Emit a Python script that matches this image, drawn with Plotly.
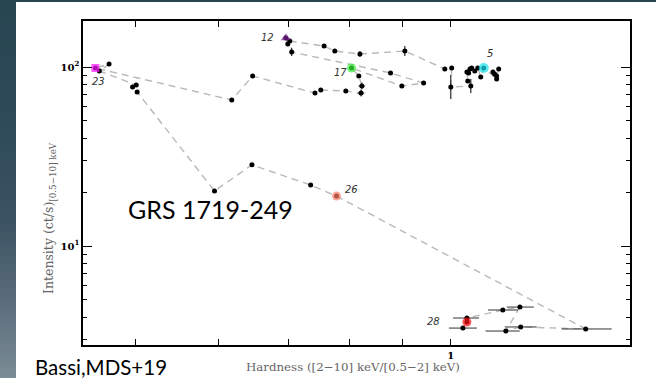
import numpy as np
import plotly.graph_objects as go

# ---------------- data ----------------
# observation path, in time order: hardness ratio and intensity (ct/s)
hardness = [1.111, 1.106, 1.101, 1.097, 1.106, 1.075, 1.068, 1.061, 1.054, 1.047,
            1.043, 1.040, 1.036, 1.038, 1.045, 1.000, 1.002, 0.987, 0.904, 0.819,
            0.775, 0.757, 0.702, 0.696, 0.699, 0.705, 0.876, 0.942, 0.898, 0.804,
            0.817, 0.8225, 0.821, 0.794, 0.7515, 0.742, 0.647, 0.618, 0.458, 0.472,
            0.462, 0.501, 0.497, 0.502, 0.595, 0.646, 0.735, 0.778, 1.345, 1.166,
            1.1285, 1.164, 1.121, 1.036, 1.036, 1.027]
intensity = [97.5, 89.1, 91.4, 93.8, 85.7, 98.7, 87.9, 98.7, 95.0, 98.7,
             97.5, 92.6, 93.8, 83.5, 78.3, 77.3, 98.7, 97.5, 122.8, 118.2,
             122.8, 131.0, 139.8, 145.3, 134.5, 121.3, 92.6, 81.4, 78.3, 98.7,
             89.1, 78.3, 71.5, 73.4, 74.4, 71.5, 89.1, 65.4, 98.7, 103.9,
             95.0, 79.3, 77.3, 72.5, 20.3, 28.4, 21.9, 19.0, 3.44, 3.53,
             3.35, 4.56, 4.39, 3.96, 3.76, 3.48]
err_int_plus = [0, 0, 0, 0, 0, 0, 0, 0, 0, 0,
                0, 0, 0, 0, 7.4, 12.9, 0, 0, 8.2, 4.6,
                0, 0, 0, 0, 0, 6.7, 0, 0, 0, 0,
                0, 3.5, 3.2, 0, 0, 0, 0, 0, 0, 0,
                0, 0, 0, 0, 0, 0, 0, 0, 0, 0,
                0, 0, 0, 0, 0, 0]
err_int_minus = [0, 0, 0, 0, 0, 0, 0, 0, 0, 0,
                 0, 0, 0, 0, 6.8, 11.1, 0, 0, 7.6, 4.5,
                 0, 0, 0, 0, 0, 6.1, 0, 0, 0, 0,
                 0, 3.3, 3.0, 0, 0, 0, 0, 0, 0, 0,
                 0, 0, 0, 0, 0, 0, 0, 0, 0, 0,
                 0, 0, 0, 0, 0, 0]
err_hard_plus = [0] * 31 + [0.006, 0.006] + [0] * 15 + [0.079, 0.042, 0.035, 0.036, 0.038, 0.028, 0, 0.032]
err_hard_minus = [0] * 31 + [0.006, 0.006] + [0] * 15 + [0.069, 0.040, 0.049, 0.033, 0.036, 0.031, 0, 0.031]

# highlighted observations
obs_labels = ["5", "12", "17", "23", "26", "28"]
obs_hardness = [1.075, 0.696, 0.804, 0.458, 0.778, 1.036]
obs_intensity = [98.7, 145.3, 98.7, 98.7, 19.0, 3.76]

# axis ticks
x_major = [0.5, 0.6, 0.7, 0.8, 0.9, 1.0]
x_major_text = ["", "", "", "", "", "<b>1</b>"]
y_major = [10, 100]
y_major_text = ["<b>10<sup>1</sup></b>", "<b>10<sup>2</sup></b>"]
y_minor = [3, 4, 5, 6, 7, 8, 9, 20, 30, 40, 50, 60, 70, 80, 90]

# ---------------- styling ----------------
obs_colors = ["#19e3f0", "#7d1f96", "#3cf23c", "#ff14ff", "#f97a64", "#ff1010"]
obs_symbols = ["circle", "triangle-up", "circle", "square", "circle", "circle"]
obs_sizes = [10, 9, 9, 8, 9, 9]
obs_shift = [(6, 15), (-18, 0), (-11, -4), (3, -13), (15, 7), (-33, 1)]

W, H = 656, 378
ML, MR, MT, MB = 83, 26, 21, 33
PW, PH = W - ML - MR, H - MT - MB


def px_to_paper_x(px):
    return (px - ML) / PW


def py_to_paper_y(py):
    return (H - MB - py) / PH


fig = go.Figure()

fig.add_trace(go.Scatter(
    x=hardness, y=intensity, mode="lines",
    line=dict(color="#b9b9b9", width=1.4, dash="7px,5px"),
    hoverinfo="skip", showlegend=False))

fig.add_trace(go.Scatter(
    x=hardness, y=intensity, mode="markers",
    marker=dict(color="black", size=5),
    error_y=dict(type="data", symmetric=False, array=err_int_plus,
                 arrayminus=err_int_minus, color="black", thickness=1, width=0),
    error_x=dict(type="data", symmetric=False, array=err_hard_plus,
                 arrayminus=err_hard_minus, color="#333333", thickness=1, width=0),
    showlegend=False))

fig.add_trace(go.Scatter(
    x=obs_hardness, y=obs_intensity, mode="markers",
    marker=dict(color=obs_colors, symbol=obs_symbols, size=obs_sizes,
                line=dict(width=0)),
    showlegend=False))

annotations = []
for lab, hx, iy, (dx, dy) in zip(obs_labels, obs_hardness, obs_intensity, obs_shift):
    annotations.append(dict(
        x=np.log10(hx), y=np.log10(iy), xref="x", yref="y", text=lab,
        showarrow=False, xshift=dx, yshift=dy, xanchor="center", yanchor="middle",
        font=dict(family="DejaVu Sans", size=10, color="#333333", style="italic")))

annotations += [
    dict(x=px_to_paper_x(49), y=py_to_paper_y(218), xref="paper", yref="paper",
         xanchor="center", yanchor="middle",
         text="Intensity (ct/s)<sub>[0.5−10] keV</sub>", textangle=-90,
         showarrow=False, font=dict(family="DejaVu Serif", size=12.5, color="#666666")),
    dict(x=px_to_paper_x(353), y=py_to_paper_y(367), xref="paper", yref="paper",
         xanchor="center", yanchor="middle",
         text="Hardness ([2−10] keV/[0.5−2] keV)", showarrow=False,
         font=dict(family="DejaVu Serif", size=11.8, color="#666666")),
    dict(x=px_to_paper_x(210), y=py_to_paper_y(209), xref="paper", yref="paper",
         xanchor="center", yanchor="middle",
         text="GRS 1719-249", showarrow=False,
         font=dict(family="Lato", size=25, color="black")),
    dict(x=px_to_paper_x(33), y=py_to_paper_y(367), xref="paper", yref="paper",
         xanchor="left", yanchor="middle",
         text="Bassi,MDS+19", showarrow=False,
         font=dict(family="Lato", size=20.5, color="black")),
]

# slide background: dark top strip and left gradient strip
shapes = [dict(type="rect", xref="paper", yref="paper",
               x0=px_to_paper_x(0), x1=px_to_paper_x(W),
               y0=py_to_paper_y(2), y1=py_to_paper_y(0),
               fillcolor="#284552", line=dict(width=0), layer="above")]
stops_y = [0, 120, 220, 280, 330, 378]
stops_c = [(0x28, 0x45, 0x52), (0x2e, 0x4a, 0x58), (0x3b, 0x52, 0x62),
           (0x52, 0x66, 0x74), (0x66, 0x78, 0x85), (0x7b, 0x8c, 0x96)]
step = 4
for y0 in range(0, H, step):
    ym = y0 + step / 2
    rgb = [int(round(np.interp(ym, stops_y, [c[k] for c in stops_c]))) for k in range(3)]
    shapes.append(dict(type="rect", xref="paper", yref="paper",
                       x0=px_to_paper_x(0), x1=px_to_paper_x(16),
                       y0=py_to_paper_y(min(y0 + step + 0.5, H)), y1=py_to_paper_y(y0),
                       fillcolor="rgb(%d,%d,%d)" % tuple(rgb), line=dict(width=0),
                       layer="above"))

fig.update_layout(
    width=W, height=H,
    margin=dict(l=ML, r=MR, t=MT, b=MB, pad=0),
    paper_bgcolor="white", plot_bgcolor="white",
    showlegend=False,
    annotations=annotations,
    shapes=shapes,
    xaxis=dict(type="log", range=[np.log10(0.4457), np.log10(1.4825)],
               tickmode="array", tickvals=x_major, ticktext=x_major_text,
               ticks="inside", ticklen=6, tickwidth=1.2, tickcolor="black",
               showline=True, linecolor="black", linewidth=1.5, mirror="ticks",
               showgrid=False, zeroline=False,
               tickfont=dict(family="DejaVu Serif", size=10, color="black")),
    yaxis=dict(type="log", range=[0.447, 2.257],
               tickmode="array", tickvals=y_major, ticktext=y_major_text,
               ticks="inside", ticklen=9, tickwidth=1.2, tickcolor="black",
               minor=dict(tickmode="array", tickvals=y_minor, ticks="inside",
                          ticklen=4, tickwidth=1, tickcolor="black"),
               showline=True, linecolor="black", linewidth=1.5, mirror="ticks",
               showgrid=False, zeroline=False,
               tickfont=dict(family="DejaVu Serif", size=10, color="black")),
)

fig.write_html("out.html")
